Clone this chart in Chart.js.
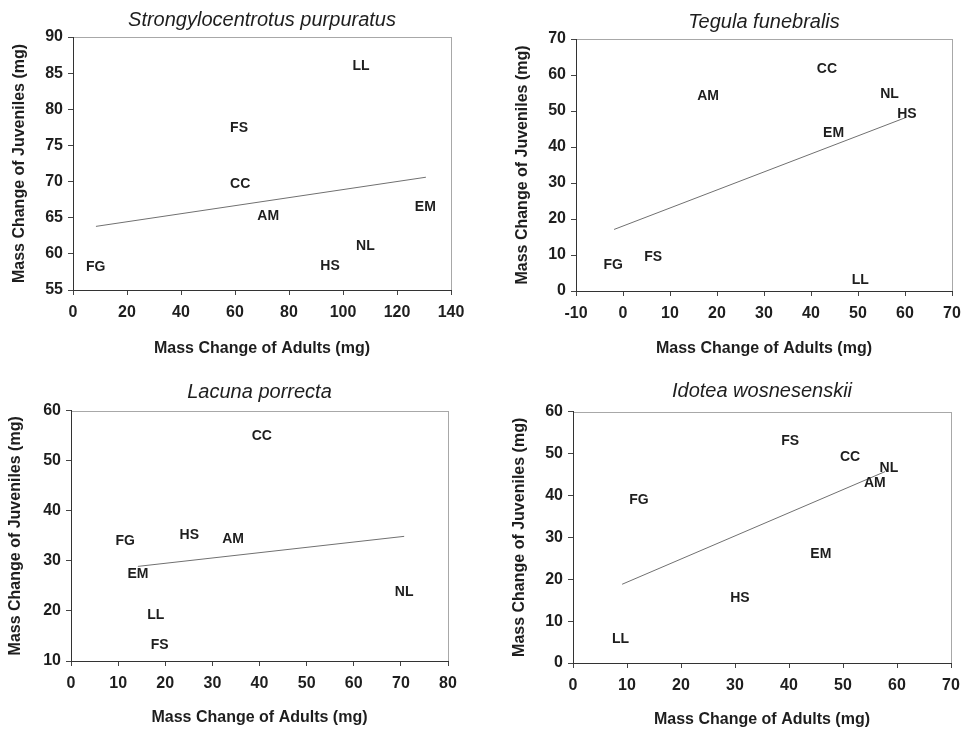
<!DOCTYPE html>
<html>
<head>
<meta charset="utf-8">
<script src="https://cdn.jsdelivr.net/npm/chart.js@4"></script>
<style>
  body { margin: 0; background: #fff; width: 962px; height: 731px; position: relative; overflow: hidden; }
  canvas { position: absolute; }
</style>
</head>
<body>
<canvas id="urchin" width="481" height="365" style="left:0;top:0"></canvas>
<canvas id="tegula" width="481" height="365" style="left:481px;top:0"></canvas>
<canvas id="lacuna" width="481" height="366" style="left:0;top:365px"></canvas>
<canvas id="idotea" width="481" height="366" style="left:481px;top:365px"></canvas>
<script>
// site codes, same order in every panel
const sites = ['AM', 'CC', 'EM', 'FG', 'FS', 'HS', 'LL', 'NL'];

// Strongylocentrotus purpuratus
const urchinAdults = [72.3, 61.9, 130.5, 8.4, 61.5, 95.2, 106.7, 108.3];
const urchinJuveniles = [65.2, 69.7, 66.5, 58.2, 77.4, 58.3, 85.9, 61.0];
const urchinFitX = [8.5, 130.7];
const urchinFitY = [63.8, 70.6];

// Tegula funebralis
const tegulaAdults = [18.1, 43.4, 44.8, -2.1, 6.4, 60.4, 50.5, 56.7];
const tegulaJuveniles = [54.2, 61.7, 43.9, 7.1, 9.3, 49.1, 2.9, 54.6];
const tegulaFitX = [-1.9, 60.2];
const tegulaFitY = [17.1, 48.2];

// Lacuna porrecta
const lacunaAdults = [34.4, 40.5, 14.2, 11.5, 18.8, 25.1, 18.0, 70.7];
const lacunaJuveniles = [34.4, 54.9, 27.3, 34.0, 13.2, 35.2, 19.1, 23.7];
const lacunaFitX = [14.2, 70.7];
const lacunaFitY = [28.9, 34.9];

// Idotea wosnesenskii
const idoteaAdults = [55.9, 51.3, 45.9, 12.2, 40.2, 30.9, 8.8, 58.5];
const idoteaJuveniles = [42.9, 49.2, 25.9, 38.9, 53.0, 15.4, 5.6, 46.6];
const idoteaFitX = [9.1, 57.8];
const idoteaFitY = [18.8, 45.7];

const FONT = '"Liberation Sans", Arial, sans-serif';
const INK = '#1e1e1e';

// the points are shown as their site code, not as markers
const siteLabels = {
  id: 'siteLabels',
  afterDatasetsDraw(chart) {
    const meta = chart.getDatasetMeta(0);
    const ctx = chart.ctx;
    ctx.save();
    ctx.font = 'bold 14px ' + FONT;
    ctx.fillStyle = INK;
    ctx.textAlign = 'center';
    ctx.textBaseline = 'middle';
    meta.data.forEach((pt, i) => ctx.fillText(sites[i], pt.x, pt.y));
    ctx.restore();
  }
};

// light grey box round the plot area (left/bottom axes drawn over it)
const plotFrame = {
  id: 'plotFrame',
  beforeDraw(chart) {
    const { ctx, chartArea: a } = chart;
    ctx.save();
    ctx.strokeStyle = '#a8a8a8';
    ctx.lineWidth = 1;
    ctx.strokeRect(Math.round(a.left) + 0.5, Math.round(a.top) + 0.5,
                   Math.round(a.width), Math.round(a.height));
    ctx.restore();
  }
};

function pairs(xs, ys) {
  return xs.map((x, i) => ({ x: x, y: ys[i] }));
}

function makeChart(id, title, adults, juveniles, fitX, fitY, axes, lay) {
  new Chart(document.getElementById(id), {
    type: 'scatter',
    data: {
      datasets: [
        { data: pairs(adults, juveniles), pointRadius: 0, pointHoverRadius: 0 },
        { data: pairs(fitX, fitY), showLine: true, pointRadius: 0,
          borderColor: '#707070', borderWidth: 1 }
      ]
    },
    options: {
      responsive: false,
      animation: false,
      events: [],
      layout: { padding: { left: 0, right: lay.padR, top: 0, bottom: 0 } },
      plugins: {
        legend: { display: false },
        tooltip: { enabled: false },
        title: {
          display: true, text: title, color: INK, fullSize: false,
          font: { family: FONT, size: 20, style: 'italic', weight: 'normal' },
          padding: { top: lay.titleTop, bottom: lay.titleBottom }
        }
      },
      scales: {
        x: {
          type: 'linear', min: axes.xMin, max: axes.xMax,
          ticks: { stepSize: axes.xStep, color: INK, padding: 8,
                   font: { family: FONT, size: 16, weight: 'bold' } },
          grid: { drawOnChartArea: false, tickLength: 5, color: '#444' },
          border: { color: '#333', width: 1 },
          title: { display: true, text: 'Mass Change of Adults (mg)', color: INK,
                   font: { family: FONT, size: 16, weight: 'bold' },
                   padding: { top: 0, bottom: lay.xTitlePad } },
          afterFit: s => { s.height = lay.xH; s.paddingLeft = 0; s.paddingRight = 0; }
        },
        y: {
          type: 'linear', min: axes.yMin, max: axes.yMax,
          ticks: { stepSize: axes.yStep, color: INK, padding: 5,
                   font: { family: FONT, size: 16, weight: 'bold' } },
          grid: { drawOnChartArea: false, tickLength: 5, color: '#444' },
          border: { color: '#333', width: 1 },
          title: { display: true, text: 'Mass Change of Juveniles (mg)', color: INK,
                   font: { family: FONT, size: 16, weight: 'bold' },
                   padding: { top: lay.yTitlePad, bottom: 0 } },
          afterFit: s => { s.width = lay.yW; }
        }
      }
    },
    plugins: [plotFrame, siteLabels]
  });
}

makeChart('urchin', 'Strongylocentrotus purpuratus', urchinAdults, urchinJuveniles,
  urchinFitX, urchinFitY,
  { xMin: 0, xMax: 140, xStep: 20, yMin: 55, yMax: 90, yStep: 5 },
  { yW: 73, padR: 30, xH: 75, titleTop: 8, titleBottom: 5, yTitlePad: 10, xTitlePad: 7 });

makeChart('tegula', 'Tegula funebralis', tegulaAdults, tegulaJuveniles,
  tegulaFitX, tegulaFitY,
  { xMin: -10, xMax: 70, xStep: 10, yMin: 0, yMax: 70, yStep: 10 },
  { yW: 95, padR: 10, xH: 74, titleTop: 10.5, titleBottom: 4.5, yTitlePad: 32, xTitlePad: 7 });

makeChart('lacuna', 'Lacuna porrecta', lacunaAdults, lacunaJuveniles,
  lacunaFitX, lacunaFitY,
  { xMin: 0, xMax: 80, xStep: 10, yMin: 10, yMax: 60, yStep: 10 },
  { yW: 71, padR: 33, xH: 70, titleTop: 15.5, titleBottom: 6.2, yTitlePad: 6, xTitlePad: 3.4 });

makeChart('idotea', 'Idotea wosnesenskii', idoteaAdults, idoteaJuveniles,
  idoteaFitX, idoteaFitY,
  { xMin: 0, xMax: 70, xStep: 10, yMin: 0, yMax: 60, yStep: 10 },
  { yW: 92, padR: 11, xH: 68, titleTop: 14.7, titleBottom: 8, yTitlePad: 29, xTitlePad: 1.4 });
</script>
</body>
</html>
